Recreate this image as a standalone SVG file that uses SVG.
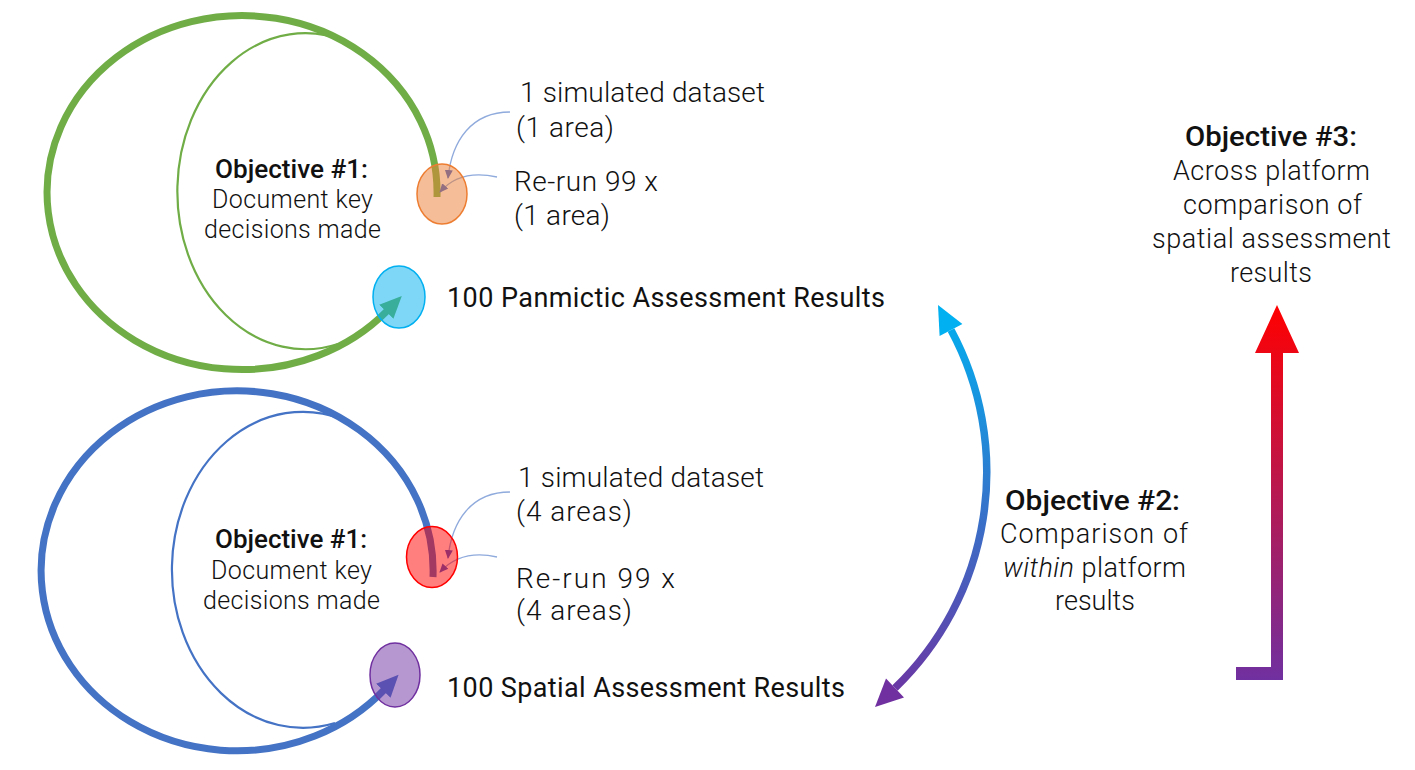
<svg xmlns="http://www.w3.org/2000/svg" width="1415" height="770" viewBox="0 0 1415 770">
<style>
  text { font-family: Roboto, "Liberation Sans", Arial, sans-serif; fill: #111; }
  .lbl { font-size: 28px; font-weight: 300; }
  .obj { font-size: 25px; font-weight: 300; }
  .objb { font-size: 25px; font-weight: 500; }
  .rt { font-size: 27px; font-weight: 300; }
  .rtb { font-size: 27px; font-weight: 500; }
  .res { font-size: 27px; font-weight: 400; }
  .thin { fill: none; stroke: #8FAADC; stroke-width: 1.3; }
  .node { stroke-width: 1.5; }
</style>
<defs>
  <marker id="ahGreen" markerUnits="userSpaceOnUse" viewBox="0 -12 24 24" refX="1" refY="0" markerWidth="24" markerHeight="24" orient="auto">
    <path d="M0,-10 L22,0 L0,10 z" fill="#70AD47"/>
  </marker>
  <marker id="ahBlue" markerUnits="userSpaceOnUse" viewBox="0 -12 24 24" refX="1" refY="0" markerWidth="24" markerHeight="24" orient="auto">
    <path d="M0,-10 L22,0 L0,10 z" fill="#4472C4"/>
  </marker>
  <marker id="ahThin" markerUnits="userSpaceOnUse" viewBox="0 -5 10 10" refX="8" refY="0" markerWidth="10" markerHeight="10" orient="auto">
    <path d="M0,-4 L9,0 L0,4 z" fill="#3A5FD0"/>
  </marker>
  <linearGradient id="gObj2" gradientUnits="userSpaceOnUse" x1="950" y1="305" x2="880" y2="710">
    <stop offset="0" stop-color="#00B0F0"/>
    <stop offset="1" stop-color="#7030A0"/>
  </linearGradient>
  <linearGradient id="gObj3" gradientUnits="userSpaceOnUse" x1="0" y1="305" x2="0" y2="680">
    <stop offset="0" stop-color="#FF0000"/>
    <stop offset="1" stop-color="#7030A0"/>
  </linearGradient>
</defs>

<g id="connectors">
  <path d="M437,197 A195,177 0 1 0 387,311" fill="none" stroke="#70AD47" stroke-width="7" marker-end="url(#ahGreen)"/>
  <path d="M433,577 A196,180 0 1 0 384,690" fill="none" stroke="#4472C4" stroke-width="7" marker-end="url(#ahBlue)"/>
  <path class="thin" d="M510,112 C472,112 452,140 448,178" marker-end="url(#ahThin)"/>
  <path class="thin" d="M497,177 C470,171 452,178 440,192" marker-end="url(#ahThin)"/>
  <path class="thin" d="M510,492 C472,492 452,520 448,558" marker-end="url(#ahThin)"/>
  <path class="thin" d="M497,557 C470,551 452,559 440,572" marker-end="url(#ahThin)"/>
  <path d="M951,330 A300,300 0 0 1 895,688" fill="none" stroke="url(#gObj2)" stroke-width="7.5"/>
  <polygon points="938,305 962.4,323.9 939.6,336.1" fill="#00B0F0"/>
  <polygon points="875,707 904,697.4 886,678.6" fill="#7030A0"/>
  <polygon points="1277,305 1299,353 1283,353 1283,680 1236,680 1236,667 1271,667 1271,353 1255,353" fill="url(#gObj3)"/>
</g>

<g id="obj1-top">
  <path d="M345,41 A128,158 0 1 0 338,344" fill="none" stroke="#70AD47" stroke-width="2.2"/>
  <text class="objb" x="215" y="178" textLength="153" lengthAdjust="spacingAndGlyphs">Objective #1:</text>
  <text class="obj" x="212" y="208" textLength="161">Document key</text>
  <text class="obj" x="204" y="238" textLength="177">decisions made</text>
</g>

<g id="dataset-top">
  <ellipse class="node" cx="442" cy="194" rx="25" ry="30" fill="#ED7D31" fill-opacity="0.5" stroke="#ED7D31"/>
  <text class="lbl" x="520" y="102" textLength="245">1 simulated dataset</text>
  <text class="lbl" x="516" y="137" textLength="98">(1 area)</text>
  <text class="lbl" x="514" y="191" textLength="144">Re-run 99 x</text>
  <text class="lbl" x="514" y="225" textLength="96">(1 area)</text>
</g>

<g id="results-panmictic">
  <ellipse class="node" cx="399" cy="297" rx="26" ry="31" fill="#00B0F0" fill-opacity="0.5" stroke="#00B0F0"/>
  <text class="res" x="447" y="307" textLength="438">100 Panmictic Assessment Results</text>
</g>

<g id="obj1-bottom">
  <path d="M342,419 A131,158 0 1 0 335,723" fill="none" stroke="#4472C4" stroke-width="2.2"/>
  <text class="objb" x="215" y="548" textLength="152" lengthAdjust="spacingAndGlyphs">Objective #1:</text>
  <text class="obj" x="211" y="579" textLength="161">Document key</text>
  <text class="obj" x="203" y="609" textLength="177">decisions made</text>
</g>

<g id="dataset-bottom">
  <ellipse class="node" cx="432" cy="557" rx="25.5" ry="30.5" fill="#FF0000" fill-opacity="0.5" stroke="#FF0000"/>
  <text class="lbl" x="518" y="487" textLength="246">1 simulated dataset</text>
  <text class="lbl" x="516" y="521" textLength="116">(4 areas)</text>
  <text class="lbl" x="516" y="588" textLength="159">Re-run 99 x</text>
  <text class="lbl" x="516" y="620" textLength="116">(4 areas)</text>
</g>

<g id="results-spatial">
  <ellipse class="node" cx="395" cy="675" rx="25" ry="32" fill="#7030A0" fill-opacity="0.5" stroke="#7030A0"/>
  <text class="res" x="447" y="697" textLength="398">100 Spatial Assessment Results</text>
</g>

<g id="objective-2">
  <text class="rtb" x="1005" y="510" textLength="175" lengthAdjust="spacingAndGlyphs">Objective #2:</text>
  <text class="rt" x="1000" y="543" textLength="188">Comparison of</text>
  <text class="rt" x="1003" y="577" textLength="183"><tspan font-style="italic">within</tspan> platform</text>
  <text class="rt" x="1055" y="610" textLength="80">results</text>
</g>

<g id="objective-3">
  <text class="rtb" x="1185" y="146" textLength="172" lengthAdjust="spacingAndGlyphs">Objective #3:</text>
  <text class="rt" x="1173" y="180" textLength="197">Across platform</text>
  <text class="rt" x="1183" y="214" textLength="179">comparison of</text>
  <text class="rt" x="1152" y="248" textLength="239">spatial assessment</text>
  <text class="rt" x="1230" y="282" textLength="82">results</text>
</g>
</svg>
